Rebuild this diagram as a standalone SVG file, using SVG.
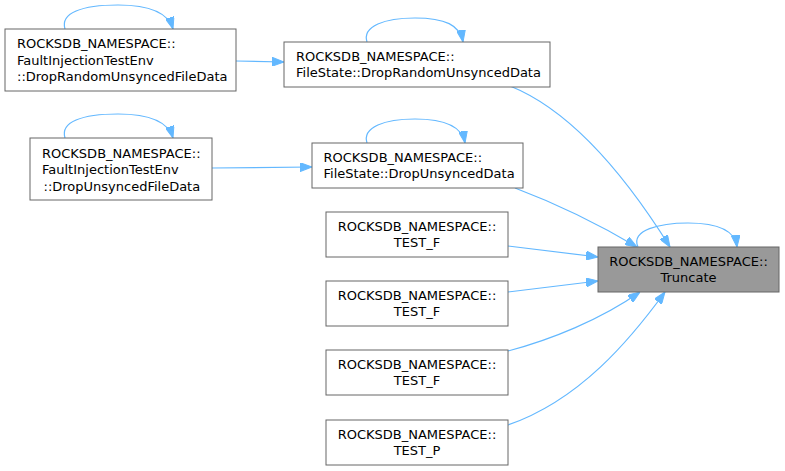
<svg xmlns="http://www.w3.org/2000/svg" width="785" height="471" viewBox="0 0 785 471">
<style>
.box{fill:#ffffff;stroke:#666666;stroke-width:1}
.hl{fill:#999999;stroke:#666666;stroke-width:1}
text{font-family:"DejaVu Sans","Liberation Sans",sans-serif;font-size:13px;fill:#000000}
.c{text-anchor:middle}
.e{fill:none;stroke:#63b8ff;stroke-width:1.2;marker-end:url(#ah)}
</style>
<defs>
<marker id="ah" markerUnits="userSpaceOnUse" markerWidth="12" markerHeight="9" refX="12" refY="4.5" orient="auto">
<path d="M0,0 L12,4.5 L0,9 z" fill="#63b8ff" stroke="#63b8ff" stroke-width="1"/>
</marker>
</defs>
<rect width="785" height="471" fill="#ffffff"/>
<g id="connectors">
<path class="e" d="M65,29 C60,13 82,5 118,5 C148,5 168,12 173,29"/>
<path class="e" d="M236,61 L284,62"/>
<path class="e" d="M367,42 C362,26 385,18 415,18 C445,18 460,25 463,42"/>
<path class="e" d="M65,138 C60,122 82,114 118,114 C148,114 168,121 173,138"/>
<path class="e" d="M212,168 L312,167"/>
<path class="e" d="M367,143 C362,127 385,119 415,119 C445,119 462,126 465,143"/>
<path class="e" d="M510,86 C570,110 625,175 670,247"/>
<path class="e" d="M515,188 C560,205 600,225 637,247"/>
<path class="e" d="M638,247 C630,230 660,223 688,223 C715,223 735,229 737,247"/>
<path class="e" d="M508,246 L598,257"/>
<path class="e" d="M508,292 L598,281"/>
<path class="e" d="M508,351 C550,340 600,320 640,292"/>
<path class="e" d="M508,425 C580,400 630,340 665,292"/>
</g>
<g id="nodeA">
<rect class="box" x="5" y="29" width="231" height="62"/>
<text x="17" y="48">ROCKSDB_NAMESPACE::</text>
<text x="17" y="64.5">FaultInjectionTestEnv</text>
<text x="17" y="81">::DropRandomUnsyncedFileData</text>
</g>
<g id="nodeB">
<rect class="box" x="30" y="138" width="182" height="62"/>
<text x="42" y="157.5">ROCKSDB_NAMESPACE::</text>
<text x="42" y="174">FaultInjectionTestEnv</text>
<text x="43.5" y="190.5">::DropUnsyncedFileData</text>
</g>
<g id="nodeC">
<rect class="box" x="284" y="42" width="266" height="45"/>
<text x="296" y="60.5">ROCKSDB_NAMESPACE::</text>
<text x="296" y="77">FileState::DropRandomUnsyncedData</text>
</g>
<g id="nodeD">
<rect class="box" x="312" y="143" width="211" height="45"/>
<text x="323.5" y="161.5">ROCKSDB_NAMESPACE::</text>
<text x="323.5" y="178">FileState::DropUnsyncedData</text>
</g>
<g id="truncate">
<rect class="hl" x="598" y="247" width="181" height="45"/>
<text class="c" x="688.5" y="265.5">ROCKSDB_NAMESPACE::</text>
<text class="c" x="688.5" y="282">Truncate</text>
</g>
<g id="testF1">
<rect class="box" x="326" y="212" width="182" height="45"/>
<text class="c" x="417" y="230.5">ROCKSDB_NAMESPACE::</text>
<text class="c" x="417" y="247">TEST_F</text>
</g>
<g id="testF2">
<rect class="box" x="326" y="281" width="182" height="45"/>
<text class="c" x="417" y="299.5">ROCKSDB_NAMESPACE::</text>
<text class="c" x="417" y="316">TEST_F</text>
</g>
<g id="testF3">
<rect class="box" x="326" y="350" width="182" height="45"/>
<text class="c" x="417" y="368.5">ROCKSDB_NAMESPACE::</text>
<text class="c" x="417" y="385">TEST_F</text>
</g>
<g id="testP">
<rect class="box" x="326" y="420" width="182" height="45"/>
<text class="c" x="417" y="438.5">ROCKSDB_NAMESPACE::</text>
<text class="c" x="417" y="455">TEST_P</text>
</g>
</svg>
